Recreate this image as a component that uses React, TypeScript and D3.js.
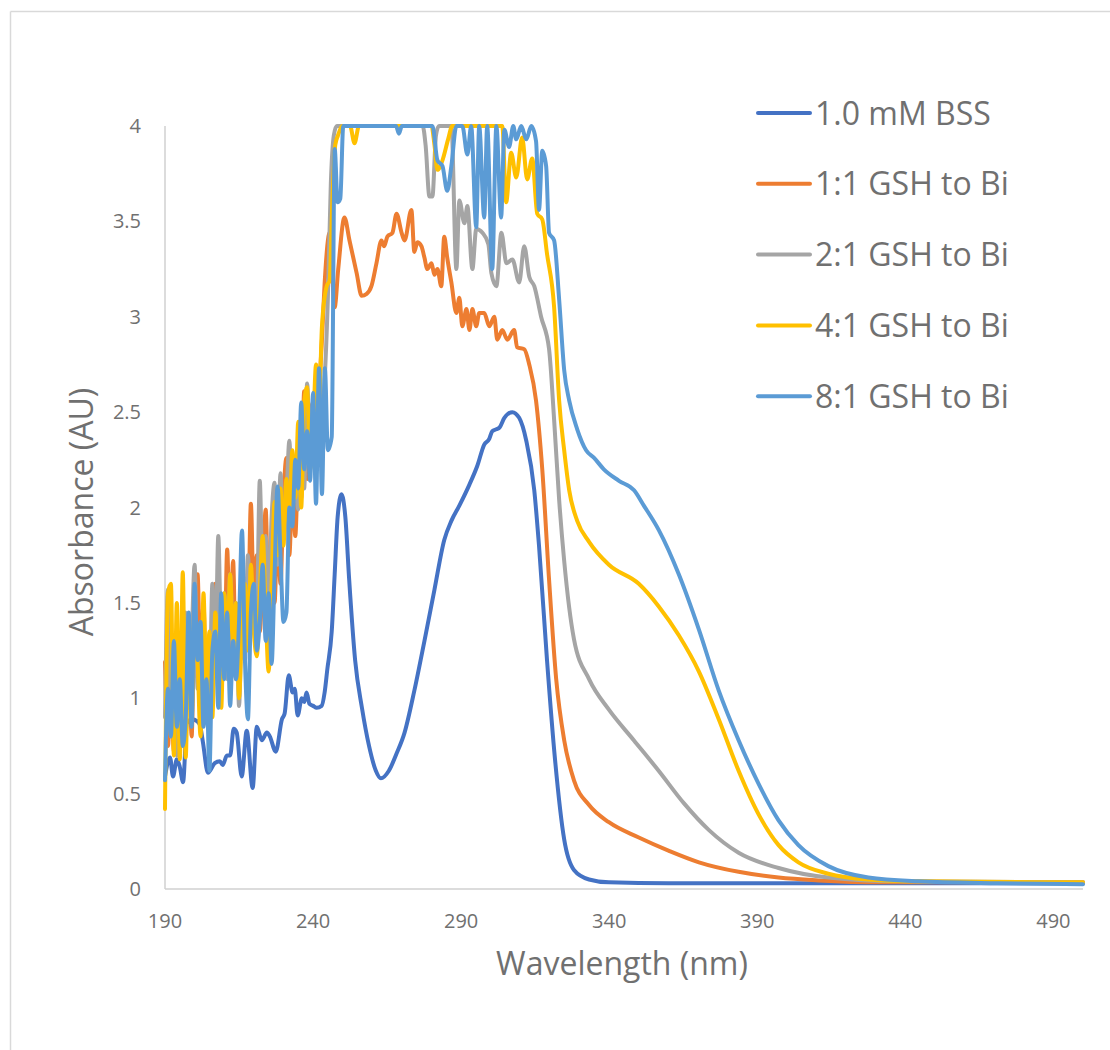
import React from "react";
import * as d3 from "d3";

type Pt = [number, number];

const X_TICKS = [190, 240, 290, 340, 390, 440, 490];
const Y_TICKS = [0, 0.5, 1, 1.5, 2, 2.5, 3, 3.5, 4];
const X_LABEL = "Wavelength (nm)";
const Y_LABEL = "Absorbance (AU)";

const SERIES_NAMES = ["1.0 mM BSS", "1:1 GSH to Bi", "2:1 GSH to Bi", "4:1 GSH to Bi", "8:1 GSH to Bi"];
const SERIES_COLORS = ["#4472C4", "#ED7D31", "#A5A5A5", "#FFC000", "#5B9BD5"];

const BSS: Pt[] = [
  [190, 0.59], [191.7, 0.69], [192.7, 0.59], [194, 0.68], [195, 0.64], [196.1, 0.56], [197.4, 0.87],
  [199.1, 0.89], [200.8, 0.88], [201.8, 0.86], [202.8, 0.77], [204.5, 0.61], [206.8, 0.66], [208.5, 0.67],
  [209.5, 0.65], [210.9, 0.7], [212, 0.7], [213.2, 0.84], [214.2, 0.82], [215.9, 0.59], [217.6, 0.83],
  [219.6, 0.53], [221, 0.85], [222.7, 0.78], [224.4, 0.82], [225.4, 0.8], [227.4, 0.72], [229.5, 0.89],
  [230.4, 0.92], [231.8, 1.12], [233.1, 1.03], [233.8, 1.05], [234.8, 0.91], [236.2, 1.0], [237, 0.98],
  [237.8, 1.03], [238.8, 0.97], [240, 0.96], [241.2, 0.95], [242.9, 0.96], [243.9, 1.03], [244.8, 1.15],
  [246.3, 1.35], [247.3, 1.65], [248.3, 1.95], [249.6, 2.07], [250.9, 1.95], [252.2, 1.62], [254.2, 1.2],
  [256.5, 0.95], [258.9, 0.75], [261.2, 0.62], [262.9, 0.58], [265.6, 0.62], [268.2, 0.71], [270.9, 0.82],
  [274.2, 1.04], [277.6, 1.3], [281, 1.57], [284.3, 1.83], [286.7, 1.93], [289.4, 2.01], [292.8, 2.12],
  [295.5, 2.22], [297.8, 2.33], [299.5, 2.36], [300.5, 2.4], [301.9, 2.41], [303, 2.42], [304.6, 2.47],
  [307.3, 2.5], [309.6, 2.47], [312, 2.35], [314.7, 2.09], [316.3, 1.8], [319, 1.2], [321.7, 0.68],
  [324.8, 0.26], [328.1, 0.1], [333.2, 0.05], [339.9, 0.035], [360, 0.03], [420, 0.03], [500, 0.03],
];

const GSH_1_1: Pt[] = [
  [190, 1.19], [191, 0.75], [192, 1.05], [193, 0.72], [194, 1.35], [195, 0.85], [196, 1.45], [197, 0.95],
  [198, 1.25], [199, 0.8], [200, 1.55], [201, 1.65], [202, 1.1], [203, 1.5], [204, 0.95], [205, 1.3],
  [206, 1.05], [207, 1.6], [208, 1.2], [209, 1.45], [210, 1.15], [211, 1.78], [212, 1.25], [213, 1.72],
  [214, 1.1], [215, 1.45], [216, 1.3], [217, 1.6], [218, 1.4], [219, 2.02], [220, 1.5], [221, 1.75],
  [222, 1.35], [223, 1.65], [224, 1.99], [225, 1.45], [226, 1.7], [227, 1.5], [228, 1.9], [229, 1.6],
  [230, 2.05], [231, 2.26], [232, 1.75], [233, 2.1], [234, 1.85], [235, 2.2], [236, 2.05], [237, 2.61],
  [238, 2.15], [239, 2.45], [240, 2.55], [241, 2.3], [242, 2.6], [243, 2.88], [244, 3.2], [245.6, 3.44],
  [247.3, 3.05], [248.5, 3.25], [250.6, 3.52], [252.3, 3.4], [254.7, 3.23], [256.4, 3.11], [258.1, 3.12],
  [259.7, 3.16], [261.4, 3.28], [263.1, 3.4], [264, 3.37], [265.1, 3.42], [266.8, 3.44], [268.2, 3.54],
  [269.9, 3.44], [270.9, 3.4], [273.2, 3.56], [274.2, 3.34], [275.2, 3.39], [276.6, 3.37], [277.6, 3.31],
  [278.6, 3.25], [280, 3.28], [281, 3.22], [282, 3.25], [283.3, 3.16], [284.3, 3.42], [285.3, 3.31],
  [286.7, 3.18], [288.4, 3.02], [289.4, 3.1], [290.4, 2.95], [291.8, 3.04], [292.8, 2.93], [293.8, 3.04],
  [295.1, 2.95], [296.1, 3.02], [297.8, 3.02], [299.5, 2.95], [301.2, 3.0], [302.2, 2.88], [303.9, 2.93],
  [305.6, 2.88], [307.9, 2.93], [308.9, 2.84], [311.3, 2.83], [313, 2.75], [315.3, 2.56], [317.4, 2.2],
  [319.7, 1.62], [322.1, 1.1], [324.8, 0.78], [328.1, 0.57], [333.2, 0.44], [339.9, 0.35], [350, 0.27],
  [360.2, 0.2], [370.3, 0.14], [383.7, 0.09], [397.2, 0.06], [410.7, 0.045], [430.9, 0.035], [500, 0.035],
];

const GSH_2_1: Pt[] = [
  [190, 0.9], [191, 1.57], [192, 0.8], [193, 1.3], [194, 0.7], [195, 1.2], [196, 0.85], [197, 1.45],
  [198, 0.95], [199, 1.3], [200, 1.7], [201, 1.05], [202, 1.4], [203, 0.9], [204, 1.25], [205, 1.0],
  [206, 1.6], [207, 1.2], [208, 1.85], [209, 1.3], [210, 1.55], [211, 1.1], [212, 1.65], [213, 1.25],
  [214, 1.5], [215, 0.96], [216, 1.4], [217, 1.2], [218, 1.75], [219, 1.35], [220, 1.6], [221, 1.45],
  [222, 2.14], [223, 1.6], [224, 1.85], [225, 1.5], [226, 1.95], [227, 2.13], [228, 1.7], [229, 2.18],
  [230, 1.85], [231, 2.05], [232, 2.35], [233, 1.95], [234, 2.2], [235, 1.99], [236, 2.4], [237, 2.1],
  [238, 2.65], [239, 2.3], [240, 2.55], [241, 2.4], [242, 2.62], [243, 2.5], [244, 2.7], [245, 3.1],
  [246, 3.7], [247, 3.95], [248, 4.0], [277, 4.0], [278, 3.9], [279.3, 3.63], [280.3, 3.63], [281.5, 3.95],
  [282.5, 4.0], [286.7, 4.0], [288.4, 3.25], [289.4, 3.61], [291.1, 3.49], [292.1, 3.58], [293.8, 3.25],
  [295.1, 3.46], [297.2, 3.44], [299.2, 3.38], [300.2, 3.23], [301.9, 3.16], [303.6, 3.44], [305.3, 3.28],
  [307.3, 3.3], [309.6, 3.18], [311.3, 3.37], [313, 3.21], [314.7, 3.16], [317, 3.0], [319.7, 2.83],
  [321.4, 2.46], [323.1, 2.04], [324.8, 1.72], [328.1, 1.31], [333.2, 1.1], [339.9, 0.94], [348.3, 0.78],
  [356.7, 0.62], [365.2, 0.45], [373.6, 0.31], [383.7, 0.19], [397.2, 0.11], [414, 0.06], [437.6, 0.04],
  [500, 0.035],
];

const GSH_4_1: Pt[] = [
  [190, 0.42], [191, 1.55], [192, 1.6], [193, 0.7], [194, 1.5], [195, 0.68], [196, 1.66], [197, 0.69],
  [198, 1.4], [199, 0.9], [200, 1.5], [201, 1.2], [202, 0.8], [203, 1.55], [204, 1.0], [205, 1.35],
  [206, 0.9], [207, 1.45], [208, 1.15], [209, 0.95], [210, 1.55], [211, 1.2], [212, 1.65], [213, 1.3],
  [214, 1.5], [215, 1.0], [216, 1.4], [217, 1.6], [218, 1.25], [219, 1.7], [220, 1.35], [221, 1.22],
  [222, 1.55], [223, 1.85], [224, 1.45], [225, 1.14], [226, 1.6], [227, 2.03], [228, 1.75], [229, 2.1],
  [230, 1.8], [231, 2.15], [232, 1.9], [233, 2.3], [234, 2.05], [235, 2.45], [236, 2.0], [237, 2.55],
  [238, 2.63], [239, 2.2], [240, 2.4], [241, 2.75], [242, 2.55], [243, 2.95], [244.6, 3.16], [245.6, 3.19],
  [246.5, 3.6], [247.5, 3.9], [248.4, 3.95], [250, 4.0], [252.5, 4.0], [254, 3.91], [255.5, 4.0], [280, 4.0],
  [281, 3.9], [282, 3.77], [283.7, 3.82], [285.6, 3.93], [287, 4.0], [303.9, 4.0], [305.2, 3.6], [306.9, 3.86],
  [308.6, 3.73], [310.6, 3.94], [312.3, 3.72], [314, 3.83], [315.7, 3.54], [317.4, 3.51], [319, 3.33],
  [321.4, 3.05], [323.1, 2.56], [324.8, 2.3], [326.5, 2.09], [329.2, 1.93], [333.2, 1.82], [339.9, 1.7],
  [350, 1.6], [356.8, 1.48], [363.5, 1.33], [370.3, 1.14], [377, 0.89], [383.7, 0.62], [390.5, 0.39],
  [397.2, 0.23], [403.9, 0.14], [414, 0.08], [427.5, 0.05], [444.4, 0.04], [500, 0.035],
];

const GSH_8_1: Pt[] = [
  [190, 0.57], [191, 1.05], [192, 0.8], [193, 1.3], [194, 0.85], [195, 1.1], [196, 0.75], [197, 0.9],
  [198, 1.45], [199, 0.85], [200, 1.6], [201, 1.2], [202, 1.4], [203, 0.85], [204, 1.1], [205, 0.62],
  [206, 1.25], [207, 1.35], [208, 0.95], [209, 1.55], [210, 1.1], [211, 1.45], [212, 0.96], [213, 1.3],
  [214, 1.1], [215, 1.4], [216, 1.88], [217, 1.2], [218, 0.89], [219, 1.45], [220, 1.6], [221, 1.25],
  [222, 1.4], [223, 1.7], [224, 1.3], [225, 1.55], [226, 1.18], [227, 1.65], [228, 2.11], [229, 1.75],
  [230, 1.4], [231, 1.45], [232, 2.0], [233, 1.9], [234, 2.25], [235, 2.1], [236, 2.55], [237, 2.2],
  [238, 2.4], [239, 2.14], [240, 2.6], [241, 2.02], [242, 2.73], [243, 2.07], [244, 2.73], [245, 2.3],
  [246.3, 2.37], [247.3, 3.88], [248.3, 3.6], [249.2, 3.62], [250.2, 4.0], [268, 4.0], [269, 3.96], [270, 4.0],
  [280.3, 4.0], [282, 3.82], [283.7, 3.79], [285.3, 3.66], [286.7, 3.79], [288.4, 4.0], [290.4, 4.0],
  [292.1, 3.85], [293.4, 4.0], [295.1, 3.47], [296.1, 4.0], [297.8, 3.52], [298.8, 4.0], [300.5, 3.25],
  [301.9, 4.0], [303.5, 3.52], [304.6, 3.98], [306.2, 3.89], [307.6, 4.0], [308.6, 3.93], [310.3, 4.0],
  [312, 3.93], [313.7, 4.0], [315.3, 3.92], [316.3, 3.56], [317.4, 3.87], [318.7, 3.79], [319.7, 3.44],
  [321.4, 3.4], [323.1, 3.09], [324.8, 2.72], [326.5, 2.56], [329.2, 2.41], [332.2, 2.3], [334.9, 2.26],
  [338.2, 2.2], [343.3, 2.14], [348.4, 2.09], [351.7, 2.01], [356.8, 1.88], [363.5, 1.65], [370.3, 1.36],
  [377, 1.04], [383.7, 0.78], [390.5, 0.55], [397.2, 0.36], [403.9, 0.23], [414, 0.12], [427.5, 0.06],
  [444.4, 0.04], [471.3, 0.03], [500, 0.025],
];

const SERIES_DATA = [BSS, GSH_1_1, GSH_2_1, GSH_4_1, GSH_8_1];

const W = 1110;
const H = 1050;
const FONT = "'Open Sans', 'Noto Sans', sans-serif";
const TEXT = "#707070";

export default function App() {
  const x = d3.scaleLinear().domain([190, 500]).range([165, 1083]);
  const y = d3.scaleLinear().domain([0, 4]).range([889, 126]);
  const line = d3
    .line<Pt>()
    .x((d) => x(d[0]))
    .y((d) => y(d[1]))
    .curve(d3.curveMonotoneX);

  return (
    <svg
      width={W}
      height={H}
      style={{ position: "absolute", left: 0, top: 0, background: "#fff", fontFamily: FONT }}
    >
      <rect x={0} y={0} width={W} height={H} fill="#fff" />
      <line x1={10.5} y1={11.5} x2={W} y2={11.5} stroke="#d9d9d9" strokeWidth={1.5} />
      <line x1={10.5} y1={11.5} x2={10.5} y2={H} stroke="#d9d9d9" strokeWidth={1.5} />

      {/* axes */}
      <line x1={x(190)} y1={y(0)} x2={x(500)} y2={y(0)} stroke="#d0d0d0" strokeWidth={1.5} />
      <line x1={x(190)} y1={y(0)} x2={x(190)} y2={y(4)} stroke="#d0d0d0" strokeWidth={1.5} />

      {Y_TICKS.map((t) => (
        <text key={"y" + t} x={141} y={y(t)} dy="0.35em" textAnchor="end" fontSize={20} fill={TEXT}>
          {t}
        </text>
      ))}
      {X_TICKS.map((t) => (
        <text key={"x" + t} x={x(t)} y={928} textAnchor="middle" fontSize={20} fill={TEXT}>
          {t}
        </text>
      ))}

      <text x={622} y={975} textAnchor="middle" fontSize={32} fill={TEXT}>
        {X_LABEL}
      </text>
      <text transform="translate(93,512) rotate(-90)" textAnchor="middle" fontSize={32} fill={TEXT}>
        {Y_LABEL}
      </text>

      {SERIES_DATA.map((data, i) => (
        <path
          key={SERIES_NAMES[i]}
          d={line(data) || ""}
          fill="none"
          stroke={SERIES_COLORS[i]}
          strokeWidth={4}
          strokeLinejoin="round"
          strokeLinecap="round"
        />
      ))}

      {SERIES_NAMES.map((name, i) => {
        const cy = 113 + i * 70.8;
        return (
          <g key={"lg" + name}>
            <line x1={758} y1={cy} x2={810} y2={cy} stroke={SERIES_COLORS[i]} strokeWidth={4} strokeLinecap="round" />
            <text x={815} y={cy + 11.5} fontSize={32} fill={TEXT}>
              {name}
            </text>
          </g>
        );
      })}
    </svg>
  );
}
